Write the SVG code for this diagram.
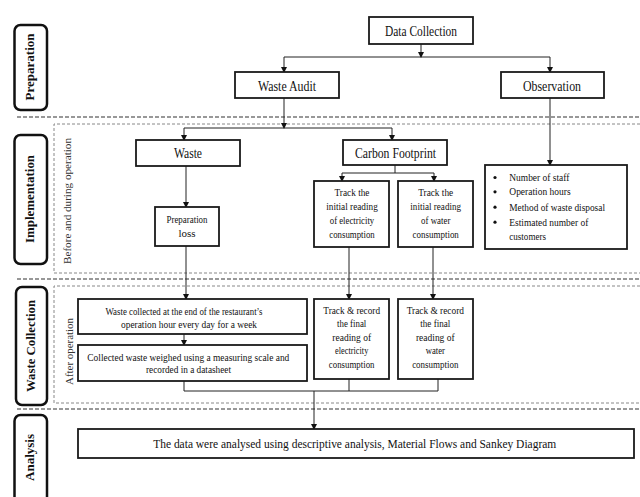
<svg xmlns="http://www.w3.org/2000/svg" width="640" height="497" viewBox="0 0 640 497">
<defs>
<marker id="ah" markerWidth="6" markerHeight="6" refX="5" refY="3" orient="auto" markerUnits="userSpaceOnUse">
<path d="M0,0 L6,3 L0,6 z" fill="#111"/>
</marker>
<style>
.box{fill:#fff;stroke:#1a1a1a;stroke-width:1.8}
.lbl{fill:#fff;stroke:#111;stroke-width:2.5}
.sep{fill:none;stroke:#333;stroke-width:1.2;stroke-dasharray:4,2}
.inner{fill:none;stroke:#888;stroke-width:1;stroke-dasharray:3,2}
.c{fill:none;stroke:#222;stroke-width:1}
.ca{fill:none;stroke:#222;stroke-width:1;marker-end:url(#ah)}
text{font-family:"Liberation Serif","Times New Roman",serif;fill:#111}
.t14{font-size:14px;text-anchor:middle}
.t11{font-size:11px;text-anchor:middle}
.tl{font-size:11px}
.vb{font-size:12px;font-weight:bold;text-anchor:middle}
.vr{font-size:11px;text-anchor:middle;fill:#333}
</style>
</defs>

<g id="separators">
<line class="sep" x1="17" y1="117" x2="640" y2="117"/>
<line class="sep" x1="17" y1="279" x2="640" y2="279"/>
<line class="sep" x1="17" y1="409" x2="640" y2="409"/>
<path class="inner" d="M640,124 H54 V273 H640"/>
<path class="inner" d="M640,286 H54 V403 H640"/>
</g>

<g id="phase-preparation">
<rect class="lbl" x="14.5" y="25" width="32.5" height="85" rx="6"/>
<text class="vb" transform="translate(34,67) rotate(-90)" textLength="67" lengthAdjust="spacingAndGlyphs">Preparation</text>
</g>
<g id="phase-implementation">
<rect class="lbl" x="14.5" y="135" width="32.5" height="129" rx="6"/>
<text class="vb" transform="translate(34,199) rotate(-90)" textLength="88" lengthAdjust="spacingAndGlyphs">Implementation</text>
</g>
<g id="phase-waste-collection">
<rect class="lbl" x="16" y="287" width="31" height="118" rx="6"/>
<text class="vb" transform="translate(35,346) rotate(-90)" textLength="92" lengthAdjust="spacingAndGlyphs">Waste Collection</text>
</g>
<g id="phase-analysis">
<rect class="lbl" x="14.5" y="415" width="32.5" height="100" rx="6"/>
<text class="vb" transform="translate(34,457.5) rotate(-90)" textLength="47" lengthAdjust="spacingAndGlyphs">Analysis</text>
</g>

<g id="label-before">
<text class="vr" transform="translate(70.5,201) rotate(-90)" textLength="126" lengthAdjust="spacingAndGlyphs">Before and during operation</text>
</g>
<g id="label-after">
<text class="vr" transform="translate(72.5,351.5) rotate(-90)" textLength="67" lengthAdjust="spacingAndGlyphs">After operation</text>
</g>

<g id="connectors">
<line class="ca" x1="421" y1="44" x2="421" y2="57"/>
<line class="c" x1="284" y1="57" x2="550" y2="57"/>
<line class="ca" x1="284" y1="57" x2="284" y2="72"/>
<line class="ca" x1="550" y1="57" x2="550" y2="72"/>
<line class="ca" x1="284" y1="98" x2="284" y2="128"/>
<line class="c" x1="184" y1="128" x2="392" y2="128"/>
<line class="ca" x1="184" y1="128" x2="184" y2="140"/>
<line class="ca" x1="392" y1="128" x2="392" y2="140"/>
<line class="ca" x1="186" y1="166" x2="186" y2="207"/>
<line class="c" x1="395" y1="165" x2="395" y2="173"/>
<line class="c" x1="342" y1="173" x2="434" y2="173"/>
<line class="ca" x1="342" y1="173" x2="342" y2="181"/>
<line class="ca" x1="434" y1="173" x2="434" y2="181"/>
<line class="ca" x1="550" y1="98" x2="550" y2="165"/>
<line class="ca" x1="186" y1="246" x2="186" y2="299"/>
<line class="ca" x1="349" y1="247" x2="349" y2="299"/>
<line class="ca" x1="433" y1="247" x2="433" y2="299"/>
<line class="ca" x1="184" y1="334" x2="184" y2="345"/>
<line class="c" x1="184" y1="381" x2="184" y2="391"/>
<line class="c" x1="349" y1="379" x2="349" y2="391"/>
<line class="c" x1="438" y1="379" x2="438" y2="391"/>
<line class="c" x1="184" y1="391" x2="438" y2="391"/>
<line class="ca" x1="314" y1="391" x2="314" y2="429"/>
</g>

<g id="data-collection">
<rect class="box" x="369" y="17" width="104" height="27"/>
<text class="t14" x="421" y="36" textLength="72" lengthAdjust="spacingAndGlyphs">Data Collection</text>
</g>
<g id="waste-audit">
<rect class="box" x="235" y="72" width="104" height="26"/>
<text class="t14" x="287" y="90.5" textLength="58" lengthAdjust="spacingAndGlyphs">Waste Audit</text>
</g>
<g id="observation">
<rect class="box" x="501" y="72" width="103" height="26"/>
<text class="t14" x="552" y="90.5" textLength="58" lengthAdjust="spacingAndGlyphs">Observation</text>
</g>
<g id="waste">
<rect class="box" x="136" y="140" width="104" height="26"/>
<text class="t14" x="188" y="158" textLength="28" lengthAdjust="spacingAndGlyphs">Waste</text>
</g>
<g id="carbon-footprint">
<rect class="box" x="343" y="140" width="104" height="25"/>
<text class="t14" x="395.5" y="158" textLength="81" lengthAdjust="spacingAndGlyphs">Carbon Footprint</text>
</g>
<g id="preparation-loss">
<rect class="box" x="155" y="207" width="64" height="39"/>
<text class="t11" x="187" y="223.3" textLength="41" lengthAdjust="spacingAndGlyphs">Preparation</text>
<text class="t11" x="187" y="236.7">loss</text>
</g>
<g id="track-initial-electricity">
<rect class="box" x="314" y="181" width="75" height="66"/>
<text class="t11" x="352" y="196" textLength="35" lengthAdjust="spacingAndGlyphs">Track the</text>
<text class="t11" x="352" y="210" textLength="51.5" lengthAdjust="spacingAndGlyphs">initial reading</text>
<text class="t11" x="352" y="224" textLength="44.5" lengthAdjust="spacingAndGlyphs">of electricity</text>
<text class="t11" x="352" y="237.7" textLength="45.5" lengthAdjust="spacingAndGlyphs">consumption</text>
</g>
<g id="track-initial-water">
<rect class="box" x="398" y="181" width="75" height="66"/>
<text class="t11" x="435.7" y="196" textLength="35" lengthAdjust="spacingAndGlyphs">Track the</text>
<text class="t11" x="435.7" y="210" textLength="50.7" lengthAdjust="spacingAndGlyphs">initial reading</text>
<text class="t11" x="435.7" y="224" textLength="29.3" lengthAdjust="spacingAndGlyphs">of water</text>
<text class="t11" x="435.7" y="237.7" textLength="46.3" lengthAdjust="spacingAndGlyphs">consumption</text>
</g>
<g id="observation-list">
<rect class="box" x="485" y="165" width="142" height="84"/>
<circle cx="495" cy="177.5" r="1.6" fill="#111"/>
<circle cx="495" cy="191.8" r="1.6" fill="#111"/>
<circle cx="495" cy="207.2" r="1.6" fill="#111"/>
<circle cx="495" cy="222.2" r="1.6" fill="#111"/>
<text class="tl" x="509.3" y="181" textLength="60" lengthAdjust="spacingAndGlyphs">Number of staff</text>
<text class="tl" x="509.3" y="195.3" textLength="61.3" lengthAdjust="spacingAndGlyphs">Operation hours</text>
<text class="tl" x="509.3" y="210.7" textLength="95.7" lengthAdjust="spacingAndGlyphs">Method of waste disposal</text>
<text class="tl" x="509.3" y="225.7" textLength="79" lengthAdjust="spacingAndGlyphs">Estimated number of</text>
<text class="tl" x="509.3" y="240" textLength="36.7" lengthAdjust="spacingAndGlyphs">customers</text>
</g>
<g id="waste-collected">
<rect class="box" x="78" y="299" width="229" height="35"/>
<text class="t11" x="184" y="315" textLength="157" lengthAdjust="spacingAndGlyphs">Waste collected  at the end of the restaurant’s</text>
<text class="t11" x="189" y="327.7" textLength="136" lengthAdjust="spacingAndGlyphs">operation  hour every day for a week</text>
</g>
<g id="waste-weighed">
<rect class="box" x="78" y="345" width="229" height="36"/>
<text class="t11" x="188.3" y="360.7" textLength="202" lengthAdjust="spacingAndGlyphs">Collected  waste weighed using a measuring  scale and</text>
<text class="t11" x="188.5" y="373.3" textLength="85" lengthAdjust="spacingAndGlyphs">recorded  in a datasheet</text>
</g>
<g id="track-final-electricity">
<rect class="box" x="314" y="299" width="75" height="80"/>
<text class="t11" x="351.7" y="314.3" textLength="56.7" lengthAdjust="spacingAndGlyphs">Track &amp; record</text>
<text class="t11" x="351.7" y="327.3" textLength="29.3" lengthAdjust="spacingAndGlyphs">the final</text>
<text class="t11" x="351.7" y="341" textLength="38.7" lengthAdjust="spacingAndGlyphs">reading of</text>
<text class="t11" x="351.7" y="354" textLength="33.3" lengthAdjust="spacingAndGlyphs">electricity</text>
<text class="t11" x="351.7" y="367.7" textLength="45.7" lengthAdjust="spacingAndGlyphs">consumption</text>
</g>
<g id="track-final-water">
<rect class="box" x="398" y="299" width="75" height="80"/>
<text class="t11" x="435.3" y="314.3" textLength="57.3" lengthAdjust="spacingAndGlyphs">Track &amp; record</text>
<text class="t11" x="435.3" y="327.3" textLength="30" lengthAdjust="spacingAndGlyphs">the final</text>
<text class="t11" x="435.3" y="341" textLength="38.7" lengthAdjust="spacingAndGlyphs">reading of</text>
<text class="t11" x="435.3" y="354" textLength="19.3" lengthAdjust="spacingAndGlyphs">water</text>
<text class="t11" x="435.3" y="367.7" textLength="46.3" lengthAdjust="spacingAndGlyphs">consumption</text>
</g>
<g id="analysis">
<rect class="box" x="78" y="429" width="556" height="29"/>
<text class="t14" transform="translate(354.7,447.5) scale(0.85,1)" x="0" y="0" style="font-size:13.5px">The data were analysed using descriptive analysis, Material Flows and Sankey Diagram</text>
</g>
</svg>
